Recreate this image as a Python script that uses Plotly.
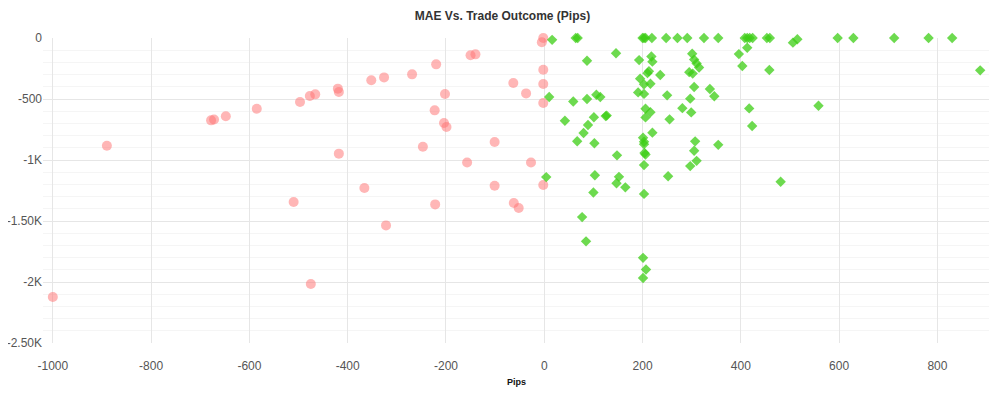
import plotly.graph_objects as go

# Losing trades (red circles): outcome pips, MAE
loss_pips = [-1000, -890, -678, -672, -648, -585, -497, -477, -466, -420, -418, -418,
             -510, -475, -366, -352, -326, -322, -269, -247, -222, -220, -223, -202,
             -204, -199, -157, -150, -140, -101, -101, -63, -62, -52, -37, -27,
             -2, -5, -2, -2, -2, -2]
loss_mae = [-2123, -883, -675, -668, -642, -580, -525, -476, -462, -415, -443, -948,
            -1344, -2017, -1230, -347, -323, -1536, -298, -891, -1364, -216, -593, -459,
            -697, -730, -1020, -142, -134, -853, -1211, -369, -1352, -1393, -454, -1020,
            0, -35, -260, -377, -533, -1205]

# Winning trades (green diamonds)
win_pips = [16, 64, 68, 200, 203, 206, 219, 248, 271, 291, 325, 354,
            408, 413, 418, 424, 453, 459, 506, 515, 597, 629, 712, 782, 830, 887,
            146, 87, 193, 218, 220, 301, 305, 310, 315, 295, 302, 396, 413, 403, 458,
            213, 210, 236, 195, 203, 216, 191, 203, 305, 337, 346, 10, 59, 87, 106, 114,
            250, 297, 281, 299, 206, 216, 206, 255, 417, 423, 558, 42, 101, 125, 127,
            89, 80, 67, 102, 220, 201, 203, 203, 204, 206, 203, 307, 305, 310, 297,
            354, 148, 4, 103, 152, 147, 165, 252, 481, 100, 203, 77, 85, 201, 207, 201]
win_mae = [-15, 0, 0, 0, 0, 0, 0, 0, 0, 0, 0, 0,
           0, 0, 0, 0, 0, 0, -38, -10, 0, 0, 0, 0, 0, -265,
           -125, -186, -181, -152, -194, -129, -177, -208, -242, -280, -292, -132, -80, -230, -262,
           -272, -288, -303, -333, -380, -375, -446, -458, -402, -418, -478, -484, -520, -500, -465, -484,
           -470, -497, -575, -610, -580, -608, -651, -667, -577, -721, -555, -678, -650, -640, -636,
           -713, -779, -846, -863, -776, -818, -850, -870, -943, -955, -1042, -847, -924, -1007, -1050,
           -876, -962, -1140, -1125, -1138, -1190, -1224, -1133, -1178, -1267, -1278, -1468, -1667, -1802, -1898, -1967]

x_ticks = [-1000, -800, -600, -400, -200, 0, 200, 400, 600, 800]
y_ticks = [0, -500, -1000, -1500, -2000, -2500]
y_tick_text = ["0", "-500", "-1K", "-1.50K", "-2K", "-2.50K"]

fig = go.Figure()
fig.add_trace(go.Scatter(
    x=loss_pips, y=loss_mae, mode="markers", name="Loss",
    marker=dict(symbol="circle", size=10, color="rgba(255,115,115,0.52)", line=dict(width=0)),
    cliponaxis=False,
))
fig.add_trace(go.Scatter(
    x=win_pips, y=win_mae, mode="markers", name="Win",
    marker=dict(symbol="diamond", size=8, color="rgba(60,205,20,0.75)", line=dict(width=0)),
    cliponaxis=False,
))

font_family = "Liberation Sans, Arial, sans-serif"
fig_h = 386
fig.update_layout(
    width=989, height=fig_h,
    margin=dict(l=35, r=7, t=30, b=51, autoexpand=False),
    paper_bgcolor="white", plot_bgcolor="white",
    showlegend=False,
    font=dict(family=font_family, size=12, color="#555"),
    title=dict(text="<b>MAE Vs. Trade Outcome (Pips)</b>", x=0.5, xanchor="center",
               y=1 - 8 / fig_h, yanchor="middle",
               font=dict(family=font_family, size=12, color="#333")),
)
fig.update_xaxes(
    range=[-1020, 907], tickvals=x_ticks, ticktext=[str(v) for v in x_ticks],
    showgrid=True, gridcolor="#e6e6e6", gridwidth=1, zeroline=False, showline=False,
    ticks="outside", ticklen=12, tickcolor="rgba(0,0,0,0)",
    tickfont=dict(size=12, color="#555"),
    title=dict(text="<b>Pips</b>", font=dict(size=9, color="#111"), standoff=6),
)
fig.update_yaxes(
    range=[-2500, 0], tickvals=y_ticks, ticktext=y_tick_text,
    showgrid=True, gridcolor="#e6e6e6", gridwidth=1, zeroline=False, showline=False,
    tickfont=dict(size=12, color="#555"),
    minor=dict(tickmode="linear", tick0=0, dtick=100, showgrid=True, gridcolor="#f5f5f5", gridwidth=1),
)

fig.write_html("out.html")
